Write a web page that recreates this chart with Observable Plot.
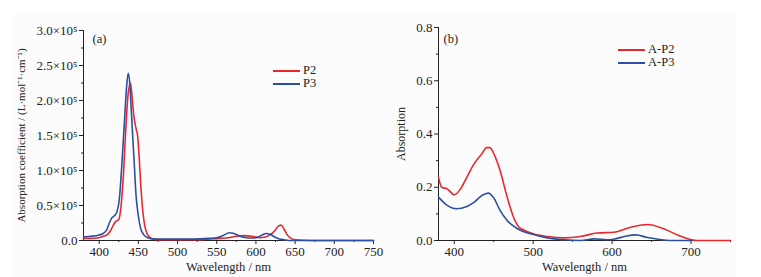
<!DOCTYPE html>
<html>
<head>
<meta charset="utf-8">
<script src="https://cdn.jsdelivr.net/npm/d3@7"></script>
<script src="https://cdn.jsdelivr.net/npm/@observablehq/plot@0.6"></script>
<style>
  html, body { margin: 0; padding: 0; background: #ffffff; }
  #wrap { position: relative; width: 761px; height: 277px; overflow: hidden; font-family: "Liberation Serif", "Times New Roman", serif; }
  #bg { position: absolute; left: 12px; top: 14px; width: 725px; height: 263px; background: #fcfcfc; }
  .panel { position: absolute; top: 0; }
  .panel svg { overflow: visible; background: transparent; }
  .leg { position: absolute; font-family: "Liberation Serif", serif; font-size: 12.5px; color: #222; }
  .leg span.ln { display: inline-block; width: 27px; height: 0; border-top: 2px solid; vertical-align: middle; margin-right: 3px; }
  .leg div { height: 13px; line-height: 13px; white-space: nowrap; }
</style>
</head>
<body>
<div id="wrap">
  <div id="bg"></div>
  <div class="panel" id="pa" style="left:0px"></div>
  <div class="panel" id="pb" style="left:380px"></div>
  <div class="leg" id="lega" style="left:273px; top:64px"></div>
  <div class="leg" id="legb" style="left:618px; top:43px"></div>
</div>
<script>
// ---------- Data (panel a: absorption coefficient, ×10^5 L·mol⁻¹·cm⁻¹) ----------
const p2Wavelength = [380,390,400,405,410,415,418,421,425,428,431,434,437,440,442,444,447,449,451,453,455,458,461,465,470,480,500,520,540,555,565,575,585,595,605,612,618,624,628,632,636,640,645,650,670,700,750];
const p2Value      = [0.03,0.03,0.04,0.06,0.08,0.15,0.22,0.27,0.30,0.50,0.95,1.60,2.10,2.25,2.05,1.80,1.60,1.50,1.20,0.80,0.50,0.22,0.10,0.04,0.02,0.01,0.01,0.01,0.02,0.03,0.04,0.06,0.07,0.06,0.04,0.05,0.08,0.14,0.20,0.22,0.16,0.08,0.03,0.01,0,0,0];
const p3Wavelength = [380,390,400,405,410,413,416,420,423,426,429,432,435,437,439,441,443,445,447,450,453,457,462,470,480,500,520,540,550,558,566,572,580,588,596,603,608,613,618,624,630,636,645,700,750];
const p3Value      = [0.05,0.06,0.08,0.10,0.16,0.25,0.32,0.36,0.42,0.62,1.10,1.65,2.20,2.39,2.25,1.85,1.45,1.05,0.65,0.35,0.17,0.08,0.04,0.02,0.02,0.02,0.02,0.03,0.04,0.07,0.11,0.10,0.06,0.04,0.035,0.05,0.08,0.10,0.09,0.05,0.02,0.01,0,0,0];

// ---------- Data (panel b: absorption) ----------
const ap2Wavelength = [380,384,391,400,408,416,425,435,441,445,452,458,467,475,482,488,500,518,539,560,581,602,624,645,666,687,708,730,750];
const ap2Value      = [0.238,0.200,0.194,0.172,0.194,0.238,0.288,0.326,0.349,0.349,0.313,0.263,0.163,0.088,0.050,0.040,0.025,0.015,0.010,0.015,0.028,0.031,0.050,0.060,0.043,0.016,0,0,0];
const ap3Wavelength = [380,391,403,416,425,435,443,450,458,467,480,497,518,539,560,577,594,602,617,630,645,658,675,700];
const ap3Value      = [0.163,0.132,0.119,0.128,0.143,0.169,0.178,0.160,0.113,0.075,0.044,0.025,0.010,0.003,0,0.006,0.003,0.005,0.016,0.021,0.011,0.005,0,0];

// ---------- Axis ticks ----------
const xTicksA = [400,450,500,550,600,650,700,750];
const xMinorA = [425,475,525,575,625,675,725];
const yTicksA = [0,0.5,1.0,1.5,2.0,2.5,3.0];
const yMinorA = [0.25,0.75,1.25,1.75,2.25,2.75];
const xTicksB = [400,500,600,700];
const xMinorB = [450,550,650,750];
const yTicksB = [0,0.2,0.4,0.6,0.8];
const yMinorB = [0.1,0.3,0.5,0.7];

const seriesNamesA = ["P2", "P3"];
const seriesNamesB = ["A-P2", "A-P3"];
const RED = "#e8282c", BLUE = "#2c4fa2";

const toRows = (ws, vs, name, scale) => ws.map((w, i) => ({w, v: vs[i] * scale, s: name}));
const dataA = [...toRows(p2Wavelength, p2Value, "P2", 1e5), ...toRows(p3Wavelength, p3Value, "P3", 1e5)];
const dataB = [...toRows(ap2Wavelength, ap2Value, "A-P2", 1), ...toRows(ap3Wavelength, ap3Value, "A-P3", 1)];

const FONT = "Liberation Serif, Times New Roman, serif";
const sup = d => d === 0 ? "0.0" : d.toFixed(1) + "×10⁵";

const plotA = Plot.plot({
  width: 380, height: 277,
  marginLeft: 83, marginRight: 7, marginTop: 30, marginBottom: 37,
  style: {fontFamily: FONT, fontSize: "13px", color: "#222", background: "transparent", overflow: "visible"},
  x: {domain: [380, 750]},
  y: {domain: [0, 3e5]},
  color: {domain: seriesNamesA, range: [RED, BLUE]},
  marks: [
    Plot.axisX({ticks: xTicksA, tickSize: 4, tickPadding: 2, fontSize: 13, label: null}),
    Plot.axisX({ticks: xMinorA, tickSize: 2, tickFormat: () => "", label: null}),
    Plot.axisX({ticks: [], tickSize: 0, label: "Wavelength / nm", labelAnchor: "center", labelArrow: "none", labelOffset: 30, fontSize: 12.5}),
    Plot.axisY({ticks: yTicksA.map(d => d * 1e5), tickSize: 4, tickPadding: 2, tickFormat: d => sup(d / 1e5), fontSize: 13, label: null}),
    Plot.axisY({ticks: yMinorA.map(d => d * 1e5), tickSize: 2, tickFormat: () => "", label: null}),
    Plot.axisY({ticks: [], tickSize: 0, label: "Absorption coefficient / (L·mol⁻¹·cm⁻¹)", labelAnchor: "center", labelArrow: "none", labelOffset: 66, fontSize: 11}),
    Plot.ruleY([0], {stroke: "#222"}),
    Plot.ruleX([380], {stroke: "#222"}),
    Plot.line(dataA, {x: "w", y: "v", z: "s", stroke: "s", strokeWidth: 1.6, curve: "monotone-x"}),
    Plot.text(["(a)"], {frameAnchor: "top-left", dx: 9, dy: 4, fontSize: 12.5, fill: "#222"})
  ]
});
document.getElementById("pa").appendChild(plotA);

const plotB = Plot.plot({
  width: 381, height: 277,
  marginLeft: 58, marginRight: 31, marginTop: 27, marginBottom: 37,
  style: {fontFamily: FONT, fontSize: "13px", color: "#222", background: "transparent", overflow: "visible"},
  x: {domain: [380, 750]},
  y: {domain: [0, 0.8]},
  color: {domain: seriesNamesB, range: [RED, BLUE]},
  marks: [
    Plot.axisX({ticks: xTicksB, tickSize: 4, tickPadding: 2, fontSize: 13, label: null}),
    Plot.axisX({ticks: xMinorB, tickSize: 2, tickFormat: () => "", label: null}),
    Plot.axisX({ticks: [], tickSize: 0, label: "Wavelength / nm", labelAnchor: "center", labelArrow: "none", labelOffset: 30, fontSize: 12.5}),
    Plot.axisY({ticks: yTicksB, tickSize: 4, tickPadding: 2, tickFormat: d => d.toFixed(1), fontSize: 13, label: null}),
    Plot.axisY({ticks: yMinorB, tickSize: 2, tickFormat: () => "", label: null}),
    Plot.axisY({ticks: [], tickSize: 0, label: "Absorption", labelAnchor: "center", labelArrow: "none", labelOffset: 42, fontSize: 12}),
    Plot.ruleY([0], {stroke: "#222"}),
    Plot.ruleX([380], {stroke: "#222"}),
    Plot.line(dataB, {x: "w", y: "v", z: "s", stroke: "s", strokeWidth: 1.6, curve: "monotone-x"}),
    Plot.text(["(b)"], {frameAnchor: "top-left", dx: 5, dy: 7, fontSize: 12.5, fill: "#222"})
  ]
});
document.getElementById("pb").appendChild(plotB);

// ---------- Legends ----------
function legend(el, names, colors) {
  const box = document.getElementById(el);
  names.forEach((n, i) => {
    const row = document.createElement("div");
    const ln = document.createElement("span");
    ln.className = "ln"; ln.style.borderColor = colors[i];
    row.appendChild(ln);
    row.appendChild(document.createTextNode(n));
    box.appendChild(row);
  });
}
legend("lega", seriesNamesA, [RED, BLUE]);
legend("legb", seriesNamesB, [RED, BLUE]);
</script>
</body>
</html>
